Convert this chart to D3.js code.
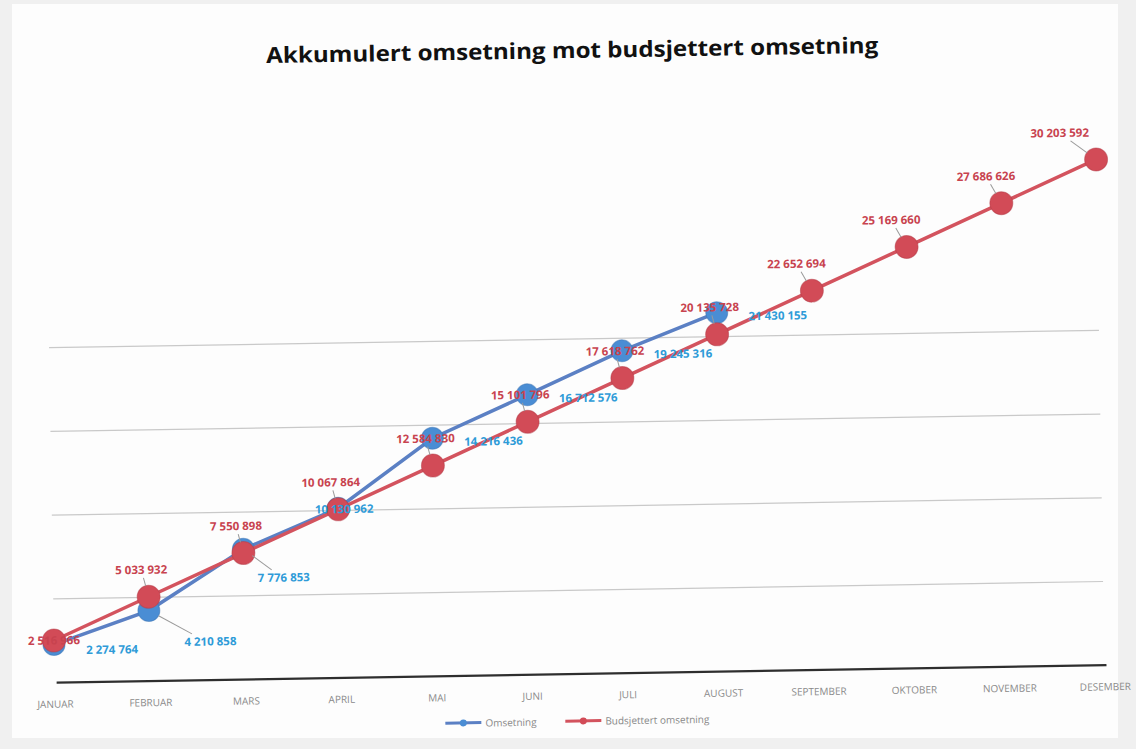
<!DOCTYPE html>
<html>
<head>
<meta charset="utf-8">
<script src="https://cdn.jsdelivr.net/npm/d3@7"></script>
<style>
  html, body { margin: 0; padding: 0; background: #f1f1f1; }
  svg { display: block; }
  .title { font-family: "Open Sans", sans-serif; font-weight: 700; fill: #111; }
  .month { font-family: "Open Sans", sans-serif; font-size: 10px; fill: #8a8a8a; }
  .lbl { font-family: "Open Sans", sans-serif; font-size: 11.5px; font-weight: 700; }
  .legend text { font-family: "Open Sans", sans-serif; font-size: 10px; fill: #888; }
</style>
</head>
<body>
<svg id="chart" width="1136" height="749"></svg>
<script>
var months = ["JANUAR", "FEBRUAR", "MARS", "APRIL", "MAI", "JUNI", "JULI",
    "AUGUST", "SEPTEMBER", "OKTOBER", "NOVEMBER", "DESEMBER"];
// actual accumulated revenue (jan-aug)
var omsetning = [2274764, 4210858, 7776853, 10130962, 14216436, 16712576, 19245316, 21430155];
// budget accumulated revenue
var budsjett = [2516966, 5033932, 7550898, 10067864, 12584830, 15101796,
    17618762, 20135728, 22652694, 25169660, 27686626, 30203592];
var seriesNames = ["Omsetning", "Budsjettert omsetning"];
var gridValues = [5000000, 10000000, 15000000, 20000000];
var yMax = 35000000;
var titleText = "Akkumulert omsetning mot budsjettert omsetning";

function draw_chart() {
    var svg = d3.select("svg");
    var blueLine = "#5b80c4", blueDot = "#4a8dd4", blueText = "#2e9bd8";
    var redLine = "#d3535e", redDot = "#d24b57", redText = "#c8434f";

    var fmt = d3.formatLocale({ decimal: ",", thousands: " ", grouping: [3], currency: ["", ""] }).format(",");

    // page background like the scan
    svg.append("rect").attr("width", 1136).attr("height", 749).attr("fill", "#f0f0f0");
    svg.append("rect").attr("x", 12).attr("y", 4).attr("width", 1106).attr("height", 734).attr("fill", "#fdfdfd");

    // the scanned page is slightly rotated
    var g = svg.append("g").attr("transform", "rotate(-0.95,575,400)");

    var x = d3.scalePoint()
        .domain(months)
        .range([50, 1100]);

    var y = d3.scaleLinear()
        .domain([0, yMax])
        .range([674, 674 - 16.75 * 35]);

    g.append("text")
        .attr("class", "title")
        .attr("x", 578)
        .attr("y", 58)
        .attr("text-anchor", "middle")
        .attr("font-size", 22)
        .attr("textLength", 612)
        .attr("lengthAdjust", "spacingAndGlyphs")
        .text(titleText);

    // gridlines
    g.selectAll("line.grid")
        .data(gridValues)
        .enter().append("line")
        .attr("class", "grid")
        .attr("x1", x(months[0]))
        .attr("x2", x(months[months.length - 1]))
        .attr("y1", function (d) { return y(d); })
        .attr("y2", function (d) { return y(d); })
        .attr("stroke", "#c9c9c9")
        .attr("stroke-width", 1.2);

    // category axis
    var xAxis = g.append("g")
        .attr("transform", "translate(0," + y(0) + ")")
        .call(d3.axisBottom(x).tickSize(0).tickPadding(18));
    xAxis.select(".domain")
        .attr("d", "M" + (x(months[0]) + 2) + ",0H" + (x(months[months.length - 1]) + 2))
        .attr("stroke", "#2e2e2e")
        .attr("stroke-width", 2.2);
    xAxis.selectAll(".tick text")
        .attr("class", "month")
        .attr("font-family", null)
        .attr("font-size", null)
        .attr("fill", null);

    var line = d3.line()
        .x(function (d, i) { return x(months[i]); })
        .y(function (d) { return y(d); });

    // Omsetning
    g.append("path")
        .datum(omsetning)
        .attr("d", line)
        .attr("fill", "none")
        .attr("stroke", blueLine)
        .attr("stroke-width", 3.5);
    g.selectAll("circle.blue")
        .data(omsetning)
        .enter().append("circle")
        .attr("class", "blue")
        .attr("cx", function (d, i) { return x(months[i]); })
        .attr("cy", function (d) { return y(d); })
        .attr("r", 11)
        .attr("fill", blueDot)
        .attr("stroke", "#3f76b4")
        .attr("stroke-opacity", 0.5);

    // Budsjettert omsetning
    g.append("path")
        .datum(budsjett)
        .attr("d", line)
        .attr("fill", "none")
        .attr("stroke", redLine)
        .attr("stroke-width", 3.5);
    g.selectAll("circle.red")
        .data(budsjett)
        .enter().append("circle")
        .attr("class", "red")
        .attr("cx", function (d, i) { return x(months[i]); })
        .attr("cy", function (d) { return y(d); })
        .attr("r", 11.5)
        .attr("fill", redDot)
        .attr("stroke", "#b43c48")
        .attr("stroke-opacity", 0.5);

    // blue data labels: first three pushed down-right, april on the marker,
    // the rest just right of the budget label so they don't collide
    function bluePos(d, i) {
        var px = x(months[i]), py = y(d);
        if (i === 0) return [px + 58, py + 10];
        if (i === 1) return [px + 61, py + 36];
        if (i === 2) return [px + 40, py + 33];
        if (i === 3) return [px + 6, py + 5];
        return [px + 61, py + 8];
    }
    // red data labels: above and a bit left
    function redPos(d, i) {
        var px = x(months[i]), py = y(d);
        if (i === 0) return [px, py + 4];
        var dx = i >= 8 ? -15 : -7;
        var lx = Math.min(px + dx, 1064);
        return [lx, py - 23];
    }

    // leader lines
    [[omsetning, bluePos, [1, 2]], [budsjett, redPos, d3.range(1, budsjett.length)]].forEach(function (s) {
        s[2].forEach(function (i) {
            var d = s[0][i], p = s[1](d, i);
            var px = x(months[i]), py = y(d);
            var ly = p[1] > py ? p[1] - 12 : p[1] + 4;
            var lx = p[0] + (px - p[0]) * 0.3;
            var dx = px - lx, dy = py - ly, len = Math.sqrt(dx * dx + dy * dy);
            if (len < 14) return;
            g.append("line")
                .attr("x1", lx).attr("y1", ly)
                .attr("x2", px - dx / len * 11).attr("y2", py - dy / len * 11)
                .attr("stroke", "#9a9a9a")
                .attr("stroke-width", 1);
        });
    });

    g.selectAll("text.blbl")
        .data(omsetning)
        .enter().append("text")
        .attr("class", "lbl blbl")
        .attr("x", function (d, i) { return bluePos(d, i)[0]; })
        .attr("y", function (d, i) { return bluePos(d, i)[1]; })
        .attr("text-anchor", "middle")
        .attr("fill", blueText)
        .text(function (d) { return fmt(d); });

    g.selectAll("text.rlbl")
        .data(budsjett)
        .enter().append("text")
        .attr("class", "lbl rlbl")
        .attr("x", function (d, i) { return redPos(d, i)[0]; })
        .attr("y", function (d, i) { return redPos(d, i)[1]; })
        .attr("text-anchor", "middle")
        .attr("fill", redText)
        .text(function (d) { return fmt(d); });

    // legend
    var legend = g.append("g").attr("class", "legend");
    var items = [
        { name: seriesNames[0], line: blueLine, dot: blueDot, x0: 440 },
        { name: seriesNames[1], line: redLine, dot: redDot, x0: 560 }
    ];
    items.forEach(function (it) {
        legend.append("line")
            .attr("x1", it.x0).attr("x2", it.x0 + 36)
            .attr("y1", 721).attr("y2", 721)
            .attr("stroke", it.line).attr("stroke-width", 3);
        legend.append("circle")
            .attr("cx", it.x0 + 18).attr("cy", 721).attr("r", 3.5)
            .attr("fill", it.dot);
        legend.append("text")
            .attr("x", it.x0 + 40).attr("y", 725)
            .text(it.name);
    });
}

draw_chart();
</script>
</body>
</html>
